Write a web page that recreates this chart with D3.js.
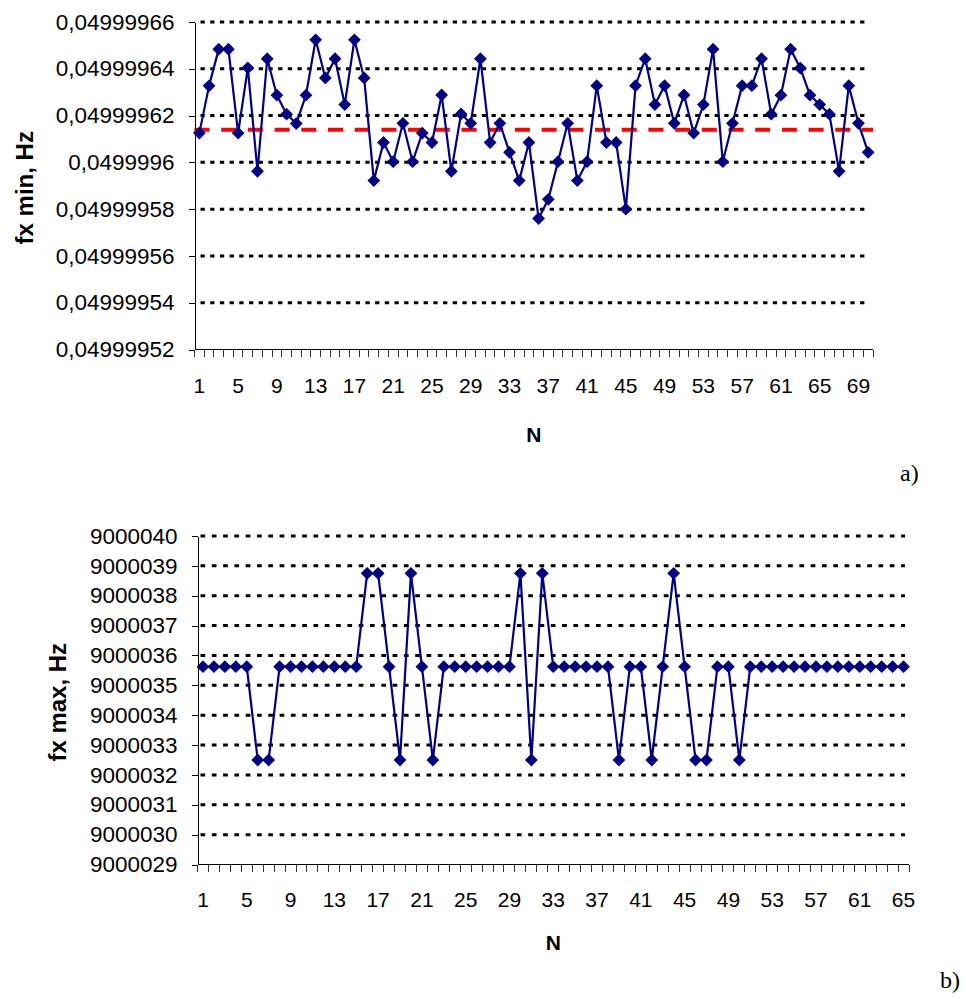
<!DOCTYPE html>
<html>
<head>
<meta charset="utf-8">
<script src="https://cdn.jsdelivr.net/npm/d3@7/dist/d3.min.js"></script>
<style>
  body { margin: 0; background: #fff; }
  svg { display: block; }
</style>
</head>
<body>
<div id="chart"></div>
<script>
// chart a): fx min, Hz
const nA = d3.range(1, 71);
const fxMin = [
  0.0499996125, 0.0499996327, 0.0499996484, 0.0499996484, 0.0499996125, 0.0499996404, 0.0499995962, 0.0499996443, 0.0499996287, 0.0499996206,
  0.0499996166, 0.0499996287, 0.0499996524, 0.0499996361, 0.0499996443, 0.0499996247, 0.0499996524, 0.0499996361, 0.0499995922, 0.0499996085,
  0.0499996003, 0.0499996167, 0.0499996003, 0.0499996125, 0.0499996085, 0.0499996288, 0.0499995962, 0.0499996207, 0.0499996167, 0.0499996443,
  0.0499996085, 0.0499996167, 0.0499996043, 0.0499995922, 0.0499996085, 0.0499995760, 0.0499995842, 0.0499996003, 0.0499996167, 0.0499995922,
  0.0499996003, 0.0499996328, 0.0499996085, 0.0499996085, 0.0499995800, 0.0499996328, 0.0499996443, 0.0499996247, 0.0499996328, 0.0499996167,
  0.0499996288, 0.0499996125, 0.0499996247, 0.0499996484, 0.0499996003, 0.0499996167, 0.0499996328, 0.0499996328, 0.0499996443, 0.0499996206,
  0.0499996287, 0.0499996484, 0.0499996403, 0.0499996287, 0.0499996247, 0.0499996206, 0.0499995962, 0.0499996328, 0.0499996167, 0.0499996043
];
const fxMinRef = 0.0499996139;
const yLabelsA = ["0,04999952", "0,04999954", "0,04999956", "0,04999958", "0,0499996", "0,04999962", "0,04999964", "0,04999966"];
const xLabelsA = ["1", "5", "9", "13", "17", "21", "25", "29", "33", "37", "41", "45", "49", "53", "57", "61", "65", "69"];

// chart b): fx max, Hz
const nB = d3.range(1, 66);
const fxMax = [
  9000035.625, 9000035.625, 9000035.625, 9000035.625, 9000035.625, 9000032.5, 9000032.5, 9000035.625, 9000035.625, 9000035.625,
  9000035.625, 9000035.625, 9000035.625, 9000035.625, 9000035.625, 9000038.75, 9000038.75, 9000035.625, 9000032.5, 9000038.75,
  9000035.625, 9000032.5, 9000035.625, 9000035.625, 9000035.625, 9000035.625, 9000035.625, 9000035.625, 9000035.625, 9000038.75,
  9000032.5, 9000038.75, 9000035.625, 9000035.625, 9000035.625, 9000035.625, 9000035.625, 9000035.625, 9000032.5, 9000035.625,
  9000035.625, 9000032.5, 9000035.625, 9000038.75, 9000035.625, 9000032.5, 9000032.5, 9000035.625, 9000035.625, 9000032.5,
  9000035.625, 9000035.625, 9000035.625, 9000035.625, 9000035.625, 9000035.625, 9000035.625, 9000035.625, 9000035.625, 9000035.625,
  9000035.625, 9000035.625, 9000035.625, 9000035.625, 9000035.625
];
const yLabelsB = ["9000029", "9000030", "9000031", "9000032", "9000033", "9000034", "9000035", "9000036", "9000037", "9000038", "9000039", "9000040"];
const xLabelsB = ["1", "5", "9", "13", "17", "21", "25", "29", "33", "37", "41", "45", "49", "53", "57", "61", "65"];

const width = 966, height = 999;
const svg = d3.select("#chart").append("svg")
  .attr("width", width)
  .attr("height", height);

function drawPanel(svg, o) {
  const yVals = o.yLabels.map((s) => +s.replace(",", "."));
  const x = d3.scaleBand().domain(o.cats).range([o.left, o.right]);
  const y = d3.scaleLinear().domain(d3.extent(yVals)).range([o.bottom, o.top]);
  const g = svg.append("g");

  // dotted gridlines
  g.append("g")
    .selectAll("line")
    .data(yVals.slice(1))
    .join("line")
    .attr("x1", o.left + 1)
    .attr("x2", o.right - 4)
    .attr("y1", (d) => y(d))
    .attr("y2", (d) => y(d))
    .attr("stroke", "#000")
    .attr("stroke-width", 3)
    .attr("stroke-dasharray", o.gridDash)
    .attr("stroke-dashoffset", -o.gridDashOffset);

  // reference line
  if (o.ref != null) {
    g.append("line")
      .attr("x1", o.left)
      .attr("x2", o.right)
      .attr("y1", y(o.ref))
      .attr("y2", y(o.ref))
      .attr("stroke", "#ff0000")
      .attr("stroke-width", 4)
      .attr("stroke-dasharray", "15,11.7");
  }

  // y axis
  g.append("g")
    .attr("transform", `translate(${o.left},0)`)
    .call(
      d3.axisLeft(y)
        .tickValues(yVals)
        .tickFormat((d, i) => o.yLabels[i])
        .tickSize(6)
        .tickSizeOuter(0)
        .tickPadding(14)
    )
    .call((a) => a.selectAll("line, path").attr("stroke", "#000").attr("shape-rendering", "crispEdges"))
    .call((a) =>
      a.selectAll("text")
        .attr("font-family", "Liberation Sans, Arial, sans-serif")
        .attr("font-size", 22.5)
        .attr("fill", "#000")
    );

  // x axis with ticks between categories
  const bounds = o.cats.map((c) => x(c)).concat([o.right]);
  g.append("line")
    .attr("x1", o.left)
    .attr("x2", o.right)
    .attr("y1", o.bottom)
    .attr("y2", o.bottom)
    .attr("stroke", "#000")
    .attr("shape-rendering", "crispEdges");
  g.append("g")
    .selectAll("line")
    .data(bounds)
    .join("line")
    .attr("x1", (d) => d)
    .attr("x2", (d) => d)
    .attr("y1", o.bottom)
    .attr("y2", o.bottom + 7)
    .attr("stroke", "#333")
    .attr("shape-rendering", "crispEdges");
  g.append("g")
    .attr("font-family", "Liberation Sans, Arial, sans-serif")
    .attr("font-size", 21)
    .attr("text-anchor", "middle")
    .selectAll("text")
    .data(o.xLabels)
    .join("text")
    .attr("x", (d) => x(+d) + x.bandwidth() / 2)
    .attr("y", o.bottom + o.xLabelGap)
    .text((d) => d);

  // series
  const line = d3.line()
    .x((d, i) => x(o.cats[i]) + x.bandwidth() / 2)
    .y((d) => y(d));
  g.append("path")
    .datum(o.values)
    .attr("fill", "none")
    .attr("stroke", "#000080")
    .attr("stroke-width", 2.2)
    .attr("stroke-linejoin", "round")
    .attr("d", line);
  g.append("g")
    .attr("fill", "#000080")
    .selectAll("path")
    .data(o.values)
    .join("path")
    .attr("d", d3.symbol(d3.symbolSquare, 82))
    .attr("transform", (d, i) => `translate(${x(o.cats[i]) + x.bandwidth() / 2},${y(d)}) rotate(45)`);

  // axis titles
  g.append("text")
    .attr("x", (o.left + o.right) / 2)
    .attr("y", o.nY)
    .attr("text-anchor", "middle")
    .attr("font-family", "Liberation Sans, Arial, sans-serif")
    .attr("font-weight", "bold")
    .attr("font-size", 21)
    .text("N");
  g.append("text")
    .attr("transform", `translate(${o.titleX},${(o.top + o.bottom) / 2 + 2}) rotate(-90)`)
    .attr("text-anchor", "middle")
    .attr("font-family", "Liberation Sans, Arial, sans-serif")
    .attr("font-weight", "bold")
    .attr("font-size", 24)
    .text(o.title);

  // panel letter
  g.append("text")
    .attr("x", o.tagX)
    .attr("y", o.tagY)
    .attr("font-family", "Liberation Serif, Times New Roman, serif")
    .attr("font-size", 24)
    .text(o.tag);
}

drawPanel(svg, {
  cats: nA, values: fxMin, ref: fxMinRef,
  yLabels: yLabelsA, xLabels: xLabelsA,
  left: 194.5, right: 873, top: 22, bottom: 349.5,
  gridDash: "4.3,5.4", gridDashOffset: 5,
  xLabelGap: 43, nY: 442,
  title: "fx min, Hz", titleX: 33,
  tag: "a)", tagX: 900, tagY: 481
});

drawPanel(svg, {
  cats: nB, values: fxMax, ref: null,
  yLabels: yLabelsB, xLabels: xLabelsB,
  left: 197.5, right: 909, top: 536, bottom: 864.5,
  gridDash: "4.7,6.6", gridDashOffset: 2,
  xLabelGap: 42, nY: 950,
  title: "fx max, Hz", titleX: 66,
  tag: "b)", tagX: 940, tagY: 988
});
</script>
</body>
</html>
